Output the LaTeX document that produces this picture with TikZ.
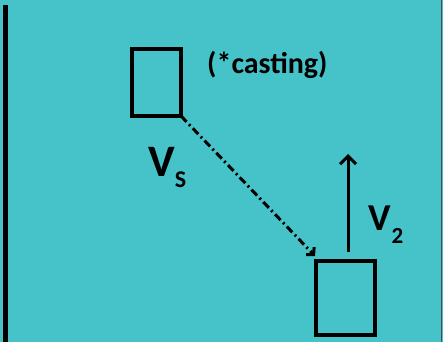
\documentclass[tikz,border=0pt]{standalone}
\usepackage{fontspec}
\setmainfont{Carlito}
\usepackage{xcolor}
\usetikzlibrary{arrows.meta,positioning,calc}

\definecolor{bgteal}{HTML}{45C3C9}

\begin{document}
\begin{tikzpicture}[
  x=1pt, y=-1pt,
  box/.style={draw, line width=3.2pt, inner sep=0pt, outer sep=0pt},
  lbl/.style={font=\bfseries, inner sep=0pt},
  arr/.style={line width=3pt, -{Straight Barb[length=8pt, width=16pt, line width=3pt]}},
  dasharr/.style={line width=3pt, dash pattern=on 8pt off 3.5pt on 2pt off 3.5pt,
    -{Straight Barb[length=5pt, width=11pt, line width=3pt]}}
]
  % background and frame
  \fill[bgteal] (0,0) rectangle (443,342);
  \useasboundingbox (0,0) rectangle (443,342);
  \draw[line width=5pt] (5.8,5) -- (5.8,342);
  \draw[line width=1.5pt, black!70] (441.5,0) -- (441.5,342);

  % cars
  \node[box, minimum width=49pt, minimum height=67pt] (src) at (156.5,82.5) {};
  \node[box, minimum width=59pt, minimum height=74pt] (dst) at (345.5,298) {};

  % labels
  \node[lbl, font=\bfseries\fontsize{30}{32}\selectfont, anchor=west] (cast) at (207,65) {(*casting)};
  \node[lbl, anchor=base west] (vs) at (148,176)
    {\fontsize{45}{48}\selectfont V\raisebox{-11pt}{\fontsize{24}{26}\selectfont S}};
  \node[lbl, anchor=base west] (v2) at (368,230)
    {\fontsize{38}{40}\selectfont V\kern1pt\raisebox{-13pt}{\fontsize{23}{25}\selectfont 2}};

  % motions
  \coordinate (tip) at ($(dst.north)+(2.5,-107)$);
  \draw[dasharr] (src.south east) -- ($(dst.north west)+(-1,-5)$);
  \draw[arr] ($(dst.north)+(2.5,-9)$) -- (tip);
\end{tikzpicture}
\end{document}
